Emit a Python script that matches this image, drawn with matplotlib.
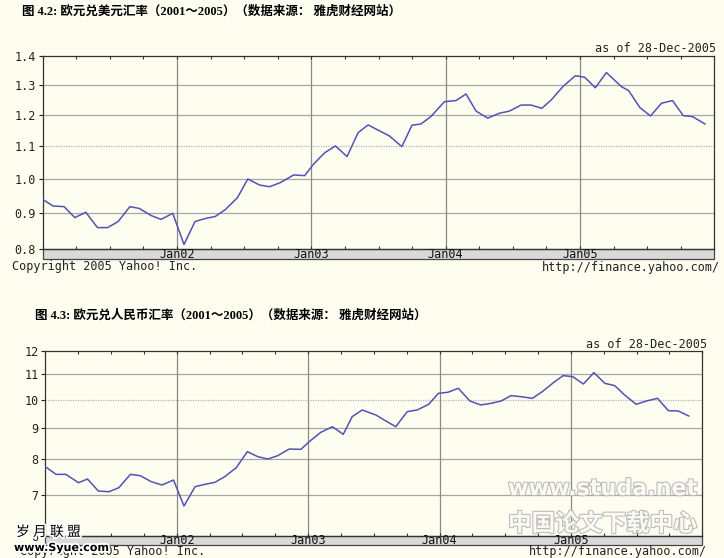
import numpy as np
import matplotlib
matplotlib.use("Agg")
import matplotlib.pyplot as plt
import matplotlib.patheffects as pe
from matplotlib.patches import Rectangle
from matplotlib.ticker import FixedLocator, MultipleLocator, NullFormatter

# EUR/USD (fig 4.2)
usd_t = [2001.000, 2001.077, 2001.159, 2001.239, 2001.321, 2001.408, 2001.483, 2001.562,
         2001.649, 2001.719, 2001.806, 2001.881, 2001.968, 2002.052, 2002.134, 2002.216,
         2002.284, 2002.358, 2002.450, 2002.527, 2002.614, 2002.689, 2002.769, 2002.868,
         2002.950, 2003.017, 2003.100, 2003.179, 2003.266, 2003.348, 2003.423, 2003.480,
         2003.580, 2003.674, 2003.749, 2003.816, 2003.890, 2003.990, 2004.077, 2004.152,
         2004.226, 2004.313, 2004.400, 2004.475, 2004.562, 2004.637, 2004.716, 2004.786,
         2004.873, 2004.965, 2005.035, 2005.114, 2005.197, 2005.308, 2005.363, 2005.445,
         2005.525, 2005.607, 2005.689, 2005.769, 2005.838, 2005.930]
usd_rate = [0.939, 0.920, 0.918, 0.887, 0.902, 0.859, 0.859, 0.876, 0.918, 0.913, 0.893,
            0.882, 0.899, 0.813, 0.876, 0.885, 0.890, 0.909, 0.944, 0.999, 0.981, 0.976,
            0.988, 1.011, 1.009, 1.044, 1.079, 1.100, 1.067, 1.142, 1.167, 1.154, 1.132,
            1.098, 1.166, 1.170, 1.194, 1.243, 1.247, 1.269, 1.212, 1.189, 1.205, 1.212,
            1.232, 1.232, 1.221, 1.249, 1.294, 1.331, 1.326, 1.290, 1.342, 1.294, 1.280,
            1.224, 1.196, 1.238, 1.247, 1.197, 1.194, 1.170]
usd_levels = [0.8, 0.9, 1.0, 1.1, 1.2, 1.3, 1.4]
usd_dotted = [1.1]

# EUR/CNY (fig 4.3)
cny_t = [2001.000, 2001.081, 2001.156, 2001.252, 2001.320, 2001.403, 2001.484, 2001.559,
         2001.647, 2001.723, 2001.806, 2001.887, 2001.975, 2002.055, 2002.139, 2002.214,
         2002.290, 2002.365, 2002.453, 2002.537, 2002.617, 2002.693, 2002.768, 2002.856,
         2002.945, 2003.008, 2003.096, 2003.184, 2003.267, 2003.335, 2003.411, 2003.516,
         2003.579, 2003.667, 2003.754, 2003.830, 2003.917, 2003.992, 2004.063, 2004.143,
         2004.231, 2004.313, 2004.393, 2004.469, 2004.544, 2004.619, 2004.707, 2004.782,
         2004.870, 2004.940, 2005.013, 2005.095, 2005.175, 2005.258, 2005.333, 2005.409,
         2005.496, 2005.576, 2005.659, 2005.742, 2005.817, 2005.897]
cny_rate = [7.774, 7.553, 7.553, 7.320, 7.422, 7.095, 7.077, 7.184, 7.553, 7.515, 7.348,
            7.257, 7.394, 6.707, 7.212, 7.275, 7.330, 7.487, 7.745, 8.224, 8.071, 8.001,
            8.101, 8.307, 8.296, 8.538, 8.843, 9.033, 8.777, 9.379, 9.617, 9.438, 9.262,
            9.033, 9.557, 9.617, 9.824, 10.238, 10.277, 10.432, 9.948, 9.800, 9.861, 9.948,
            10.148, 10.110, 10.047, 10.302, 10.669, 10.940, 10.899, 10.603, 11.064, 10.630,
            10.537, 10.174, 9.824, 9.948, 10.047, 9.593, 9.581, 9.402]
cny_levels = [6, 7, 8, 9, 10, 11, 12]
cny_dotted = [10]

year_ticks = [2002, 2003, 2004, 2005]
year_labels = ["Jan02", "Jan03", "Jan04", "Jan05"]

BG = "#fdfdf0"
LINE = "#5252b8"
MONO = "DejaVu Sans Mono"
CJK = ["Liberation Serif", "Noto Sans CJK SC", "DejaVu Sans"]


def draw_chart(ax, t, rate, levels, dotted, strip_h):
    ax.set_facecolor(BG)
    ax.set_xlim(2001, 2006)

    for lv in levels[1:-1]:
        if lv in dotted:
            ax.axhline(lv, color="#b4b4b4", lw=0.9, ls=(0, (1, 1)), zorder=1)
        else:
            ax.axhline(lv, color="#a6a6a6", lw=0.9, zorder=1)
    for yr in year_ticks:
        ax.axvline(yr, color="#8a8a8a", lw=0.9, zorder=1)

    ax.plot(t, rate, color=LINE, lw=1.1, zorder=3)

    ax.tick_params(axis="y", direction="out", length=3, width=0.8, pad=2, colors="#222222")
    ax.xaxis.set_major_locator(FixedLocator(year_ticks))
    ax.xaxis.set_minor_locator(MultipleLocator(0.25))
    ax.set_xticklabels([])
    ax.tick_params(axis="x", which="both", direction="in", top=True, bottom=True,
                   length=2.5, width=0.8, colors="#333333")

    for s in ax.spines.values():
        s.set_color("#333333")
        s.set_linewidth(0.9)

    # grey date strip under the plot
    ax.add_patch(Rectangle((0, -strip_h), 1, strip_h, transform=ax.transAxes,
                           clip_on=False, facecolor="#d9d9d9", edgecolor="#444444",
                           lw=0.9, zorder=2))
    for yr, lab in zip(year_ticks, year_labels):
        ax.text(yr, -strip_h / 2, lab, transform=ax.get_xaxis_transform(),
                ha="center", va="center", family=MONO, fontsize=8.5, color="#111111")


def set_levels(ax, levels, fmt):
    ax.set_ylim(levels[0], levels[-1])
    ax.yaxis.set_major_locator(FixedLocator(levels))
    ax.yaxis.set_minor_locator(FixedLocator([]))
    ax.yaxis.set_minor_formatter(NullFormatter())
    ax.set_yticklabels([fmt % lv for lv in levels], family=MONO, fontsize=8.5)


def hollow(fig, x, y, s, size, family, weight="bold"):
    fig.text(x, y, s, ha="left", va="center", fontsize=size, family=family,
             weight=weight, color="#fbfbf3", zorder=10,
             path_effects=[pe.Stroke(linewidth=1.6, foreground="#bdbdbd"), pe.Normal()])


def main():
    W, H = 724, 558
    fig = plt.figure(figsize=(W / 100, H / 100), dpi=100)
    fig.patch.set_facecolor(BG)

    def fx(px):
        return px / W

    def fy(py):
        return 1 - py / H

    # ---- figure 4.2 ----
    fig.text(fx(22), fy(11.5), "图 4.2: 欧元兑美元汇率（2001～2005）（数据来源： 雅虎财经网站）",
             family=CJK, weight="bold", fontsize=9, va="center", ha="left")
    ax1 = fig.add_axes([fx(42.7), fy(249.3), fx(714.3 - 42.7), (249.3 - 56) / H])
    ax1.set_yscale("function", functions=(np.sqrt, np.square))
    draw_chart(ax1, usd_t, usd_rate, usd_levels, usd_dotted, 10 / 193.3)
    set_levels(ax1, usd_levels, "%.1f")
    fig.text(fx(716), fy(48.5), "as of 28-Dec-2005", family=MONO, fontsize=8.5,
             ha="right", va="center", color="#222222")
    fig.text(fx(12), fy(266.5), "Copyright 2005 Yahoo! Inc.", family=MONO, fontsize=8.5,
             ha="left", va="center", color="#222222")
    fig.text(fx(720), fy(267), "http://finance.yahoo.com/", family=MONO, fontsize=8.5,
             ha="right", va="center", color="#222222")

    # ---- figure 4.3 ----
    fig.text(fx(35), fy(316), "图 4.3: 欧元兑人民币汇率（2001～2005）（数据来源： 雅虎财经网站）",
             family=CJK, weight="bold", fontsize=9, va="center", ha="left")
    ax2 = fig.add_axes([fx(45.4), fy(535.7), fx(702.3 - 45.4), (535.7 - 351) / H])
    ax2.set_yscale("log")
    draw_chart(ax2, cny_t, cny_rate, cny_levels, cny_dotted, 9.3 / 184.7)
    set_levels(ax2, cny_levels, "%d")
    fig.text(fx(707), fy(345), "as of 28-Dec-2005", family=MONO, fontsize=8.5,
             ha="right", va="center", color="#222222")
    fig.text(fx(20), fy(552), "Copyright 2005 Yahoo! Inc.", family=MONO, fontsize=8.5,
             ha="left", va="center", color="#222222")
    fig.text(fx(707), fy(552), "http://finance.yahoo.com/", family=MONO, fontsize=8.5,
             ha="right", va="center", color="#222222")

    # watermarks
    hollow(fig, fx(508), fy(489), "www.studa.net", 16, "DejaVu Sans")
    hollow(fig, fx(508), fy(524), "中国论文下载中心", 17, "Noto Sans CJK SC")
    halo = [pe.Stroke(linewidth=2.5, foreground="white"), pe.Normal()]
    fig.text(fx(16), fy(532), "岁 月 联 盟", family="Noto Sans CJK SC", fontsize=10,
             color="black", va="center", ha="left", zorder=10, path_effects=halo)
    fig.text(fx(14), fy(548), "www.Syue.com", family="DejaVu Sans", weight="bold",
             fontsize=8, color="black", va="center", ha="left", zorder=10, path_effects=halo)

    fig.savefig("out.png", dpi=100, facecolor=BG)
    plt.close(fig)


if __name__ == "__main__":
    main()
